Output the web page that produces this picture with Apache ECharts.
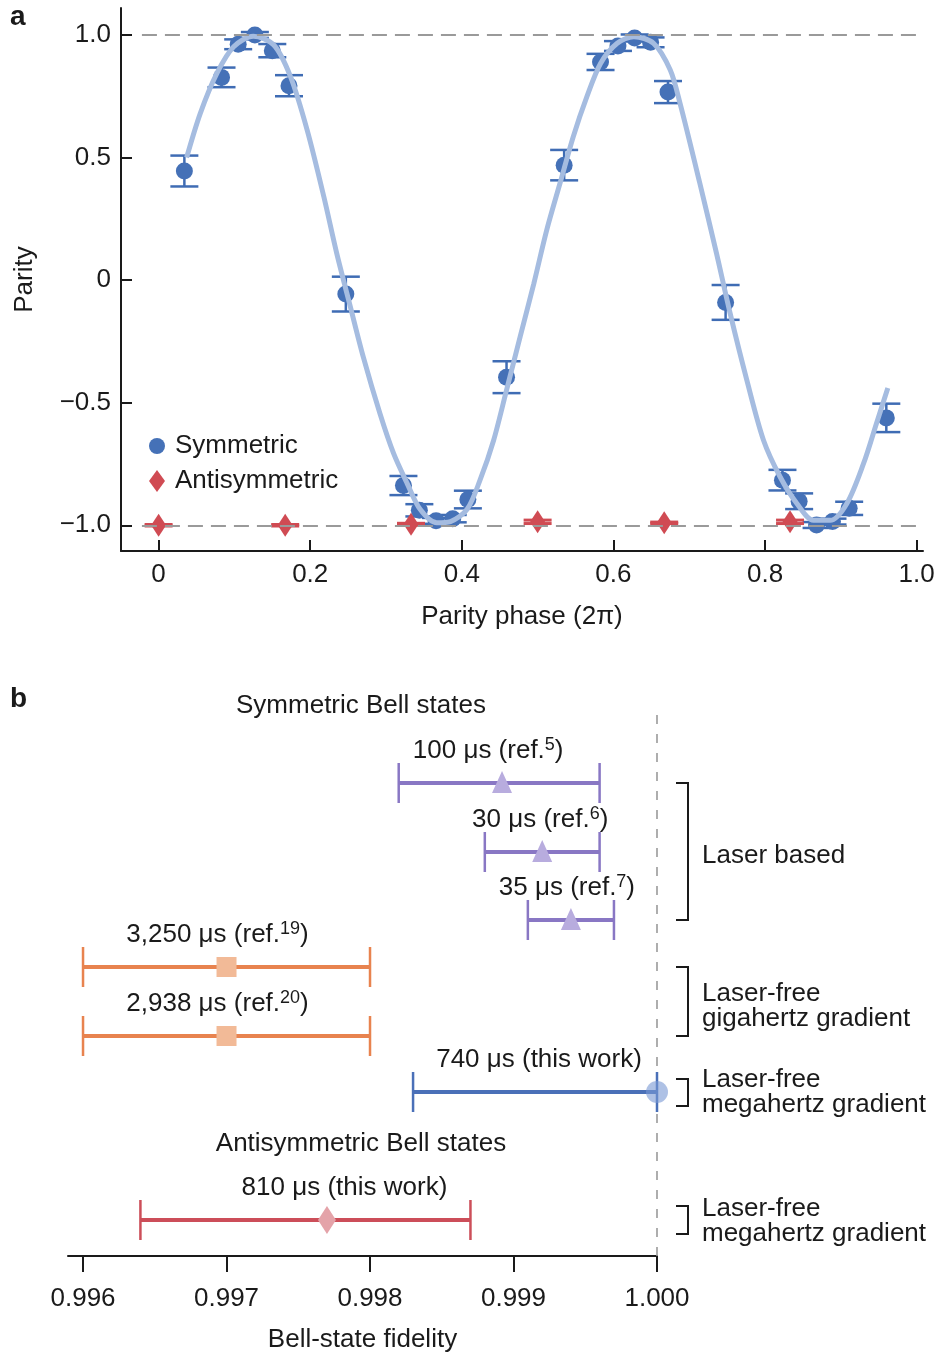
<!DOCTYPE html>
<html>
<head>
<meta charset="utf-8">
<script src="https://cdn.jsdelivr.net/npm/echarts@6.0.0/dist/echarts.min.js"></script>
<style>
  html, body { margin: 0; padding: 0; background: #fff; }
  #chart { width: 940px; height: 1353px; }
</style>
</head>
<body>
<div id="chart"></div>
<script>
const FONT = '"Liberation Sans", Arial, Helvetica, sans-serif';
const INK = '#1a1a1a';

// ---- panel a : parity scan ----
const symPhase = [0.034, 0.083, 0.105, 0.127, 0.150, 0.172, 0.247, 0.323, 0.344, 0.366, 0.388, 0.408, 0.459,
  0.535, 0.583, 0.606, 0.628, 0.649, 0.672, 0.748, 0.823, 0.845, 0.868, 0.889, 0.911, 0.960];
const symParity = [0.445, 0.827, 0.962, 1.0, 0.936, 0.793, -0.057, -0.838, -0.939, -0.982, -0.973, -0.895, -0.396,
  0.469, 0.890, 0.955, 0.988, 0.970, 0.767, -0.091, -0.816, -0.902, -0.999, -0.985, -0.931, -0.562];
const symErr = [0.063, 0.040, 0.020, 0.012, 0.027, 0.043, 0.071, 0.039, 0.025, 0.012, 0.015, 0.036, 0.065,
  0.062, 0.033, 0.020, 0.014, 0.020, 0.045, 0.071, 0.042, 0.032, 0.012, 0.012, 0.027, 0.058];

const antiPhase = [0, 0.167, 0.333, 0.5, 0.667, 0.833];
const antiParity = [-1.0, -1.0, -0.996, -0.986, -0.99, -0.986];
const antiErr = [0.003, 0.003, 0.004, 0.007, 0.003, 0.007];

// fitted curve
const fitPhase = [0.037, 0.055, 0.077, 0.099, 0.125, 0.152, 0.174, 0.196, 0.218, 0.235, 0.253, 0.270, 0.292,
  0.310, 0.328, 0.345, 0.367, 0.385, 0.407, 0.424, 0.442, 0.459, 0.477, 0.495, 0.512, 0.530, 0.547, 0.565,
  0.583, 0.605, 0.627, 0.653, 0.675, 0.688, 0.714, 0.736, 0.754, 0.776, 0.798, 0.820, 0.842, 0.864, 0.886,
  0.908, 0.930, 0.947, 0.962];
const fitParity = [0.50, 0.68, 0.844, 0.952, 0.995, 0.959, 0.83, 0.612, 0.34, 0.109, -0.109, -0.313, -0.544,
  -0.707, -0.83, -0.935, -0.99, -0.985, -0.935, -0.816, -0.653, -0.449, -0.231, -0.014, 0.204, 0.40, 0.585, 0.748,
  0.884, 0.966, 0.993, 0.966, 0.857, 0.72, 0.395, 0.109, -0.136, -0.408, -0.653, -0.803, -0.911, -0.98, -0.98,
  -0.911, -0.748, -0.585, -0.44];

const parityTicks = [-1, -0.5, 0, 0.5, 1];
const phaseTicks = [0, 0.2, 0.4, 0.6, 0.8, 1.0];
const parityRefs = [1, -1];

// ---- panel b : Bell-state fidelity ----
const rowTime = ['100 μs', '30 μs', '35 μs', '3,250 μs', '2,938 μs', '740 μs', '810 μs'];
const rowRef = ['5', '6', '7', '19', '20', '', ''];
const rowKind = ['laser', 'laser', 'laser', 'ghz', 'ghz', 'mhz', 'anti'];
const fidelity = [0.99892, 0.99920, 0.99940, 0.99700, 0.99700, 1.00000, 0.99770];
const fidLow = [0.99820, 0.99880, 0.99910, 0.99600, 0.99600, 0.99830, 0.99640];
const fidHigh = [0.99960, 0.99960, 0.99970, 0.99800, 0.99800, 1.00000, 0.99870];
const fidTicks = [0.996, 0.997, 0.998, 0.999, 1.000];
const perfectFidelity = 1.0;

// layout of panel b (pixels)
const rowY = [783, 852, 920, 967, 1036, 1092, 1220];
const labelDx = [-11, -2, -4, -9, -9, 4, 39];
const bLeft = 68, bWidth = 589, bMin = 0.9958953;

const kindStyle = {
  laser: { line: '#8977c4', fill: '#b8acde' },
  ghz: { line: '#e8834f', fill: '#f2ba97' },
  mhz: { line: '#4a70b8', fill: 'rgba(120,152,212,0.6)' },
  anti: { line: '#cc4e59', fill: '#e4a3a9' }
};

const fmtParity = v => v === 0 ? '0' : (v < 0 ? '\u2212' : '') + Math.abs(v).toFixed(1);
const fmtPhase = v => v === 0 ? '0' : v.toFixed(1);

function errBarV(color, width, half) {
  return function (params, api) {
    const x = api.value(0), y = api.value(1), e = api.value(2);
    const top = api.coord([x, y + e]);
    const bot = api.coord([x, y - e]);
    const st = { stroke: color, lineWidth: width };
    return {
      type: 'group',
      children: [
        { type: 'line', shape: { x1: top[0], y1: top[1], x2: bot[0], y2: bot[1] }, style: st },
        { type: 'line', shape: { x1: top[0] - half, y1: top[1], x2: top[0] + half, y2: top[1] }, style: st },
        { type: 'line', shape: { x1: bot[0] - half, y1: bot[1], x2: bot[0] + half, y2: bot[1] }, style: st }
      ]
    };
  };
}

function markerShape(kind, cx, cy, fill) {
  if (kind === 'laser') {
    return { type: 'polygon', shape: { points: [[cx, cy - 12], [cx + 10, cy + 10], [cx - 10, cy + 10]] }, style: { fill } };
  }
  if (kind === 'ghz') {
    return { type: 'rect', shape: { x: cx - 10, y: cy - 10, width: 20, height: 20 }, style: { fill } };
  }
  if (kind === 'mhz') {
    return { type: 'circle', shape: { cx, cy, r: 11 }, style: { fill } };
  }
  return { type: 'polygon', shape: { points: [[cx, cy - 14], [cx + 9, cy], [cx, cy + 14], [cx - 9, cy]] }, style: { fill } };
}

function rowRender(i) {
  return function (params, api) {
    const lo = api.coord([api.value(1), 0]);
    const hi = api.coord([api.value(2), 0]);
    const c = api.coord([api.value(3), 0]);
    const y = lo[1];
    const ks = kindStyle[rowKind[i]];
    const st = { stroke: ks.line, lineWidth: 2.5 };
    const text = rowRef[i]
      ? '{t|' + rowTime[i] + ' (ref.}{s|' + rowRef[i] + '}{t|)}'
      : '{t|' + rowTime[i] + ' (this work)}';
    return {
      type: 'group',
      children: [
        { type: 'line', shape: { x1: lo[0], y1: y, x2: hi[0], y2: y }, style: { stroke: ks.line, lineWidth: 4 } },
        { type: 'line', shape: { x1: lo[0], y1: y - 20, x2: lo[0], y2: y + 20 }, style: st },
        { type: 'line', shape: { x1: hi[0], y1: y - 20, x2: hi[0], y2: y + 20 }, style: st },
        markerShape(rowKind[i], c[0], y, ks.fill),
        {
          type: 'text',
          x: (lo[0] + hi[0]) / 2 + labelDx[i],
          y: y - 32,
          style: {
            text: text,
            align: 'center', verticalAlign: 'middle',
            textAlign: 'center', textVerticalAlign: 'middle',
            rich: {
              t: { fontSize: 26, fontFamily: FONT, fill: INK, lineHeight: 30 },
              s: { fontSize: 18, fontFamily: FONT, fill: INK, lineHeight: 18, verticalAlign: 'top' }
            }
          }
        }
      ]
    };
  };
}

// grids: 0 = panel a, 1 = panel b axis, 2.. = one strip per row
const grids = [
  { left: 121, top: 8, width: 802, height: 543, outerBoundsMode: 'none' },
  { left: bLeft, top: 712, width: bWidth, height: 544, outerBoundsMode: 'none' }
];
const xAxes = [
  {
    gridIndex: 0, type: 'value', min: -0.0496, max: 1.0084,
    name: 'Parity phase (2\u03c0)', nameLocation: 'middle', nameGap: 53, nameMoveOverlap: false,
    nameTextStyle: { fontSize: 26, color: INK, fontFamily: FONT },
    axisLine: { onZero: false, lineStyle: { color: INK, width: 2 } },
    axisTick: { inside: true, length: 11, customValues: phaseTicks, lineStyle: { color: INK, width: 2 } },
    axisLabel: { customValues: phaseTicks, formatter: fmtPhase, fontSize: 26, color: INK, fontFamily: FONT, margin: 11 },
    splitLine: { show: false }
  },
  {
    gridIndex: 1, type: 'value', min: bMin, max: 1.0,
    name: 'Bell-state fidelity', nameLocation: 'middle', nameGap: 71, nameMoveOverlap: false,
    nameTextStyle: { fontSize: 26, color: INK, fontFamily: FONT },
    axisLine: { onZero: false, lineStyle: { color: INK, width: 2 } },
    axisTick: { inside: false, length: 16, customValues: fidTicks, lineStyle: { color: INK, width: 2 } },
    axisLabel: { customValues: fidTicks, formatter: v => v.toFixed(3), fontSize: 26, color: INK, fontFamily: FONT, margin: 30 },
    splitLine: { show: false }
  }
];
const yAxes = [
  {
    gridIndex: 0, type: 'value', min: -1.105, max: 1.11,
    name: 'Parity', nameLocation: 'middle', nameGap: 83, nameRotate: 90, nameMoveOverlap: false,
    nameTextStyle: { fontSize: 26, color: INK, fontFamily: FONT },
    axisLine: { show: true, onZero: false, lineStyle: { color: INK, width: 2 } },
    axisTick: { show: true, inside: true, length: 11, customValues: parityTicks, lineStyle: { color: INK, width: 2 } },
    axisLabel: { customValues: parityTicks, formatter: fmtParity, fontSize: 26, color: INK, fontFamily: FONT, margin: 10 },
    splitLine: { show: false }
  },
  { gridIndex: 1, type: 'value', min: 0, max: 1, show: false }
];

const series = [
  {
    name: 'fit', type: 'line', xAxisIndex: 0, yAxisIndex: 0,
    data: fitPhase.map((x, i) => [x, fitParity[i]]),
    showSymbol: false, smooth: 0.3, silent: true,
    lineStyle: { color: '#a5bce0', width: 5 },
    markLine: {
      silent: true, symbol: 'none', label: { show: false },
      lineStyle: { color: '#9a9a9a', width: 2, type: [15, 8] },
      data: parityRefs.map(v => [{ coord: [-0.022, v] }, { coord: [1.002, v] }])
    }
  },
  {
    name: 'symErr', type: 'custom', xAxisIndex: 0, yAxisIndex: 0,
    encode: { x: 0, y: 1 },
    data: symPhase.map((x, i) => [x, symParity[i], symErr[i]]),
    renderItem: errBarV('#3f6cb4', 2.5, 14)
  },
  {
    name: 'Symmetric', type: 'scatter', xAxisIndex: 0, yAxisIndex: 0,
    data: symPhase.map((x, i) => [x, symParity[i]]),
    symbol: 'circle', symbolSize: 17,
    itemStyle: { color: '#4571b7', opacity: 1 }
  },
  {
    name: 'antiErr', type: 'custom', xAxisIndex: 0, yAxisIndex: 0,
    encode: { x: 0, y: 1 },
    data: antiPhase.map((x, i) => [x, antiParity[i], antiErr[i]]),
    renderItem: errBarV('#d04b53', 3, 14)
  },
  {
    name: 'Antisymmetric', type: 'scatter', xAxisIndex: 0, yAxisIndex: 0,
    data: antiPhase.map((x, i) => [x, antiParity[i]]),
    symbol: 'diamond', symbolSize: [15, 23],
    itemStyle: { color: '#d04b53', opacity: 1 }
  },
  {
    name: 'ideal', type: 'custom', xAxisIndex: 1, yAxisIndex: 1,
    encode: { x: 0, y: 1 },
    data: [[perfectFidelity, 0]],
    silent: true,
    renderItem: function (params, api) {
      const b = api.coord([api.value(0), 0]);
      const t = api.coord([api.value(0), 1]);
      return {
        type: 'line',
        shape: { x1: b[0], y1: b[1], x2: t[0], y2: t[1] },
        style: { stroke: '#9a9a9a', lineWidth: 1.6, lineDash: [9, 10] }
      };
    }
  }
];

rowTime.forEach((t, i) => {
  const g = grids.length;
  grids.push({ left: bLeft, width: bWidth, top: rowY[i] - 20, height: 40, outerBoundsMode: 'none' });
  xAxes.push({ gridIndex: g, type: 'value', min: bMin, max: 1.0, show: false });
  yAxes.push({ gridIndex: g, type: 'category', data: ['r'], show: false });
  series.push({
    name: 'row' + i, type: 'custom', xAxisIndex: g, yAxisIndex: g,
    encode: { y: 0, x: [1, 2, 3] },
    data: [[0, fidLow[i], fidHigh[i], fidelity[i]]],
    renderItem: rowRender(i)
  });
});

function txt(text, x, y, align, font, extra) {
  return {
    type: 'text', x: x, y: y, silent: true,
    style: Object.assign({
      text: text, font: font || ('26px ' + FONT), fill: INK,
      align: align, verticalAlign: 'middle',
      textAlign: align, textVerticalAlign: 'middle'
    }, extra || {})
  };
}

// brackets on the right of panel b
const groups = [
  { top: rowY[0], bottom: rowY[2], textY: 856, text: 'Laser based' },
  { top: rowY[3], bottom: rowY[4], textY: 1006, text: 'Laser-free\ngigahertz gradient' },
  { top: rowY[5] - 13, bottom: rowY[5] + 14, textY: 1092, text: 'Laser-free\nmegahertz gradient' },
  { top: rowY[6] - 14, bottom: rowY[6] + 14, textY: 1221, text: 'Laser-free\nmegahertz gradient' }
];

const graphics = [
  txt('a', 10, 17, 'left', 'bold 28px ' + FONT),
  txt('b', 10, 699, 'left', 'bold 28px ' + FONT),
  txt('Symmetric Bell states', 361, 706, 'center'),
  txt('Antisymmetric Bell states', 361, 1144, 'center')
];
groups.forEach(gr => {
  graphics.push({
    type: 'polyline', silent: true,
    shape: { points: [[676, gr.top], [688, gr.top], [688, gr.bottom], [676, gr.bottom]] },
    style: { stroke: INK, lineWidth: 2, fill: null }
  });
  graphics.push(txt(gr.text, 702, gr.textY, 'left', null, { lineHeight: 25 }));
});

const chart = echarts.init(document.getElementById('chart'));
chart.setOption({
  animation: false,
  backgroundColor: '#fff',
  textStyle: { fontFamily: FONT },
  grid: grids,
  xAxis: xAxes,
  yAxis: yAxes,
  legend: {
    data: [{ name: 'Symmetric', icon: 'circle' }, { name: 'Antisymmetric', icon: 'diamond' }],
    orient: 'vertical', left: 144, top: 428,
    itemWidth: 16, itemHeight: 22, itemGap: 9,
    textStyle: { fontSize: 26, color: INK, fontFamily: FONT, padding: [0, 0, 0, 5] },
    selectedMode: false
  },
  graphic: graphics,
  series: series
});
</script>
</body>
</html>
